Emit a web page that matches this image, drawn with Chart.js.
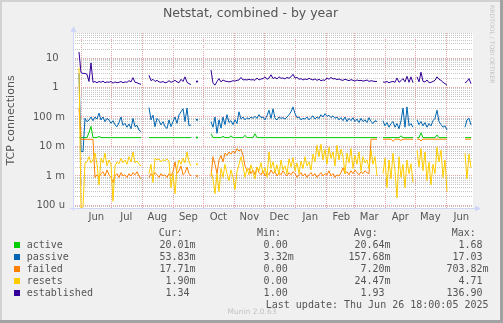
<!DOCTYPE html>
<html>
<head>
<meta charset="utf-8">
<title>Netstat, combined - by year</title>
<script src="https://cdn.jsdelivr.net/npm/chart.js@4/dist/chart.umd.min.js"></script>
<style>
  html, body { margin: 0; padding: 0; background: #f0f0f0; }
  canvas { display: block; }
</style>
</head>
<body>
<canvas id="netstat" width="503" height="323"></canvas>
<script>
// Netstat, combined - by year (munin style rrd graph)

// one sample every 2 days, day 0 is the left edge of the graph
const sampleStep = 2;
const graphDays = 400;

// month boundaries (days from the left edge) and their labels
const monthStarts = [8.3, 38.3, 69.3, 100.3, 130.3, 161.3, 191.3, 222.3, 253.3, 281.3, 312.3, 342.3, 373.3];
const monthLabels = ['Jun', 'Jul', 'Aug', 'Sep', 'Oct', 'Nov', 'Dec', 'Jan', 'Feb', 'Mar', 'Apr', 'May', 'Jun'];

// labelled decades on the log axis
const yDecades = [1e-4, 1e-3, 1e-2, 1e-1, 1, 10];
const yDecadeLabels = ['100 u', '1 m', '10 m', '100 m', '1  ', '10  '];

const active = [
  null, null, null, 0.02, 0.02, 0.02, 0.02, 0.02, 0.03, 0.048,
  0.02, 0.02, 0.02, 0.022, 0.02, 0.02, 0.02, 0.02, 0.02, 0.02,
  0.02, 0.02, 0.02, 0.02, 0.02, 0.02, 0.02, 0.02, 0.02, 0.02,
  0.02, 0.02, 0.02, 0.02, 0.02, null, null, null, 0.02, 0.02,
  0.02, 0.02, 0.02, 0.02, 0.02, 0.02, 0.02, 0.02, 0.02, 0.02,
  0.02, 0.02, 0.02, 0.02, 0.02, 0.02, 0.02, 0.02, 0.02, 0.02,
  null, null, 0.02, null, null, null, null, null, null, 0.027,
  0.02, 0.02, 0.02, 0.02, 0.02, 0.022, 0.02, 0.02, 0.02, 0.023,
  0.02, 0.02, 0.02, 0.02, 0.02, 0.02, 0.024, 0.02, 0.02, 0.02,
  0.02, 0.027, 0.02, 0.02, 0.02, 0.02, 0.02, 0.02, 0.02, 0.02,
  0.02, 0.02, 0.02, 0.02, 0.02, 0.02, 0.02, 0.02, 0.02, 0.02,
  0.02, 0.02, 0.02, 0.02, 0.02, 0.02, 0.02, 0.02, 0.02, 0.02,
  0.02, 0.02, 0.02, 0.02, 0.02, 0.02, 0.02, 0.02, 0.02, 0.02,
  0.02, 0.02, 0.02, 0.02, 0.02, 0.02, 0.02, 0.02, 0.02, 0.02,
  0.02, 0.02, 0.02, 0.02, 0.02, 0.02, 0.02, 0.02, 0.02, 0.02,
  0.02, 0.02, 0.02, null, null, 0.02, 0.02, 0.02, 0.02, 0.02,
  0.02, 0.02, 0.02, 0.02, 0.023, 0.02, 0.02, 0.02, 0.02, 0.02,
  0.02, null, 0.02, 0.02, 0.029, 0.02, 0.02, 0.02, 0.02, 0.02,
  0.02, 0.02, 0.0245, 0.02, 0.02, 0.02, 0.02, 0.02, null, null,
  null, null, null, null, null, null, 0.02, 0.02, 0.02, 0.02001,
  null
];

const passive = [
  12, null, null, 3.0, 0.0067, 0.0067, 0.09, 0.069, 0.079, 0.1,
  0.075, 0.1, 0.085, 0.135, 0.079, 0.1, 0.069, 0.09, 0.079, 0.061,
  0.075, 0.054, 0.047, 0.065, 0.1, 0.052, 0.061, 0.045, 0.058, 0.04,
  0.09, 0.047, 0.052, 0.036, 0.032, null, null, null, 0.21, 0.08,
  0.115, 0.047, 0.09, 0.075, 0.054, 0.069, 0.047, 0.041, 0.079, 0.047,
  0.069, 0.1, 0.061, 0.117, 0.15, 0.19, 0.07, 0.2, 0.05, 0.054,
  null, null, 0.08, null, null, null, null, null, null, 0.069,
  0.045, 0.1, 0.028, 0.08, 0.042, 0.1, 0.055, 0.12, 0.065, 0.075,
  0.055, 0.08, 0.06, 0.15, 0.085, 0.1, 0.08, 0.095, 0.085, 0.1,
  0.09, 0.105, 0.09, 0.12, 0.095, 0.1, 0.08, 0.11, 0.17, 0.09,
  0.19, 0.09, 0.08, 0.1, 0.09, 0.095, 0.085, 0.1, 0.12, 0.15,
  0.22, 0.13, 0.095, 0.1, 0.08, 0.09, 0.085, 0.1, 0.08, 0.095,
  0.11, 0.085, 0.1, 0.09, 0.12, 0.1, 0.13, 0.105, 0.115, 0.095,
  0.11, 0.09, 0.1, 0.08, 0.095, 0.075, 0.1, 0.07, 0.09, 0.075,
  0.095, 0.07, 0.085, 0.065, 0.09, 0.07, 0.08, 0.065, 0.095, 0.07,
  0.06, 0.075, 0.07, null, null, 0.075, 0.05, 0.065, 0.045, 0.06,
  0.07, 0.045, 0.06, 0.04, 0.075, 0.2, 0.045, 0.22, 0.05, 0.06,
  0.045, null, 0.08, 0.055, 0.07, 0.05, 0.065, 0.045, 0.06, 0.05,
  0.075, 0.09, 0.17, 0.07, 0.055, 0.045, 0.05, 0.036, null, null,
  null, null, null, null, null, null, 0.045, 0.08, 0.09, 0.05383,
  null
];

const failed = [
  0.2, null, null, 0.2, 0.0175, 0.0175, 0.0175, 0.0175, 0.0175, 0.0175,
  0.0175, 0.0009, 0.0011, 0.0009, 0.0012, 0.0014, 0.001, 0.0016, 0.0011, 0.0009,
  0.0006, 0.001, 0.0012, 0.0009, 0.0013, 0.001, 0.0011, 0.0009, 0.0012, 0.001,
  0.0013, 0.0011, 0.0014, 0.001, 0.0008, null, null, null, 0.0009, 0.0012,
  0.001, 0.0013, 0.0011, 0.0009, 0.0012, 0.001, 0.0011, 0.0009, 0.0012, 0.001,
  0.0014, 0.003, 0.0012, 0.0015, 0.0022, 0.0011, 0.0013, 0.002, 0.0012, 0.001,
  null, null, 0.001, null, null, null, null, null, null, 0.00095,
  0.0045, 0.0025, 0.0012, 0.0035, 0.005, 0.003, 0.006, 0.005, 0.0065, 0.0055,
  0.007, 0.006, 0.0085, 0.007, 0.008, 0.005, 0.0022, 0.0015, 0.0018, 0.0012,
  0.0016, 0.0011, 0.002, 0.0013, 0.0011, 0.0015, 0.001, 0.0013, 0.0011, 0.0016,
  0.0012, 0.0014, 0.001, 0.0013, 0.0011, 0.0015, 0.0012, 0.001, 0.0013, 0.0011,
  0.0014, 0.0012, 0.0009, 0.0011, 0.0013, 0.001, 0.0012, 0.0009, 0.0011, 0.0013,
  0.001, 0.0012, 0.0009, 0.0011, 0.0013, 0.001, 0.0012, 0.0011, 0.0015, 0.001,
  0.0012, 0.0009, 0.0011, 0.001, 0.0013, 0.0019, 0.0012, 0.0014, 0.0011, 0.0015,
  0.0012, 0.0016, 0.0013, 0.0011, 0.0014, 0.0012, 0.0015, 0.0013, 0.0012, 0.0177,
  0.0177, 0.0177, 0.0177, null, null, 0.0177, 0.0177, 0.0177, 0.0177, 0.0177,
  0.015, 0.0177, 0.0177, 0.0177, 0.016, 0.0177, 0.0177, 0.0177, 0.0177, 0.0177,
  0.0177, null, 0.0177, 0.0177, 0.0155, 0.0177, 0.0177, 0.0177, 0.0177, 0.0177,
  0.0177, 0.0177, 0.0177, 0.0177, 0.0177, 0.0177, 0.0177, 0.0177, null, null,
  null, null, null, null, null, null, 0.0177, 0.0177, 0.0177, 0.01771,
  null
];

const resets = [
  3.0, null, null, 4.7, 0, 0.00009, 0.0028, 0.003, 0.0045, 0.0028,
  0.0035, 0.006, 0.0025, 0.0005, 0.004, 0.0028, 0.006, 0.0022, 0.0035, 0.0025,
  0.00014, 0.0022, 0.003, 0.0026, 0.004, 0.0028, 0.0035, 0.0025, 0.0045, 0.003,
  0.0065, 0.0028, 0.0032, 0.0025, 0.0022, null, null, null, 0.0012, 0.0025,
  0.0006, 0.004, 0.0035, 0.0038, 0.003, 0.0036, 0.0033, 0.0038, 0.0032, 0.0004,
  0.0012, 0.00025, 0.0018, 0.0035, 0.0025, 0.004, 0.0028, 0.0065, 0.003, 0.0022,
  null, null, 0.0025, null, null, null, null, null, null, 0.0015,
  0.0008, 0.00025, 0.0012, 0.0003, 0.0018, 0.0009, 0.0025, 0.0012, 0.0007, 0.0016,
  0.0009, 0.00035, 0.0014, 0.0025, 0.0045, 0.0022, 0.0009, 0.0018, 0.0011, 0.0024,
  0.0013, 0.0008, 0.002, 0.0015, 0.0028, 0.0012, 0.0019, 0.0009, 0.0065, 0.0018,
  0.003, 0.0013, 0.0024, 0.0011, 0.0035, 0.0016, 0.0022, 0.0012, 0.0038, 0.002,
  0.0042, 0.0015, 0.0028, 0.0012, 0.0032, 0.0018, 0.0045, 0.0022, 0.003, 0.0016,
  0.0055, 0.003, 0.011, 0.0045, 0.012, 0.0035, 0.008, 0.0025, 0.0095, 0.004,
  0.0065, 0.0022, 0.011, 0.0035, 0.008, 0.0045, 0.0012, 0.006, 0.0028, 0.0085,
  0.0018, 0.005, 0.0025, 0.0065, 0.0015, 0.0045, 0.0028, 0.0035, 0.0018, 0.0075,
  0.0025, 0.0045, 0.001, null, null, 0.0012, 0.004, 0.0004, 0.0035, 0.0008,
  0.006, 0.0015, 0.00018, 0.0045, 0.0009, 0.0025, 0.0004, 0.0035, 0.0012, 0.0026,
  0.0006, null, 0.0075, 0.002, 0.0085, 0.0015, 0.0065, 0.0007, 0.003, 0.0005,
  0.0025, 0.0012, 0.0095, 0.003, 0.0075, 0.0009, 0.0035, 0.0003, null, null,
  null, null, null, null, null, null, 0.006, 0.0008, 0.0055, 0.0019,
  null
];

const established = [
  35, null, null, 16, 3.2, 3.0, 3.0, 2.8, 1.6, 6.8,
  1.5, 1.6, 1.45, 1.6, 1.5, 1.65, 1.45, 1.55, 1.5, 1.6,
  1.4, 1.55, 1.45, 1.5, 1.6, 1.45, 1.55, 1.5, 1.7, 1.55,
  2.15, 1.5, 1.45, 1.35, 1.28, null, null, null, 2.6, 1.7,
  1.9, 1.6, 1.75, 1.55, 1.5, 1.6, 1.45, 1.5, 1.7, 1.5,
  1.6, 1.75, 1.55, 1.45, 1.9, 1.6, 2.3, 1.5, 1.35, 1.25,
  null, null, 1.6, null, null, null, null, null, null, 3.9,
  1.4, 1.2, 1.6, 2.0, 1.55, 1.8, 1.65, 1.6, 1.55, 1.6,
  1.7, 1.65, 1.75, 1.8, 2.2, 1.8, 1.85, 1.8, 1.9, 1.8,
  1.85, 1.75, 2.1, 1.8, 1.95, 2.0, 2.3, 1.9, 2.1, 2.7,
  2.0, 2.2, 1.95, 2.3, 2.05, 2.1, 1.95, 2.2, 2.05, 2.3,
  2.8, 2.1, 2.2, 1.9, 2.0, 1.8, 1.95, 1.85, 2.05, 1.9,
  1.8, 1.95, 1.75, 1.9, 1.7, 1.8, 1.75, 2.1, 1.9, 2.2,
  1.95, 2.0, 1.85, 1.95, 1.8, 1.75, 1.9, 1.8, 1.7, 1.85,
  1.75, 1.65, 1.8, 1.7, 1.75, 1.65, 1.7, 1.8, 1.6, 1.7,
  1.65, 1.6, 1.6, null, null, 1.55, 1.5, 1.6, 1.45, 1.55,
  1.6, 1.5, 2.1, 1.5, 1.7, 2.0, 1.55, 2.4, 1.5, 2.3,
  1.45, null, 2.3, 1.55, 3.3, 1.6, 1.55, 1.8, 1.45, 1.5,
  1.6, 1.75, 2.3, 1.9, 1.75, 1.5, 1.35, 1.2, null, null,
  null, null, null, null, null, null, 1.45, 1.6, 2.0, 1.34,
  null
];

// legend table (5 minute resolution figures from munin)
const seriesNames = ['active', 'passive', 'failed', 'resets', 'established'];
const seriesColors = ['#00CC00', '#0066B3', '#FF8000', '#FFCC00', '#330099'];
const minValues = [0, 0.00332, 0, 0, 1.00];
const avgValues = [0.02064, 0.15768, 0.0072, 0.02447, 1.93];
const maxValues = [1.68, 17.03, 0.70382, 4.71, 136.90];
const seriesData = [active, passive, failed, resets, established];

const textColor = '#555555';
const axisColor = '#CFD6F8';
const majorGrid = '#EAA6A6';
const minorGrid = '#C6C6C6';

const yMin = Math.pow(10, -4.085);
const yMax = Math.pow(10, 1.8475);

// gridline values: 1..9 x 10^n inside the axis range
const yGrid = [];
for (let e = -5; e <= 1; e++) {
  for (let k = 1; k <= 9; k++) {
    const v = k * Math.pow(10, e);
    if (v >= yMin && v <= yMax) yGrid.push(v);
  }
}
const isDecade = v => Math.abs(Math.log10(v) - Math.round(Math.log10(v))) < 1e-9;

function lastValue(arr) {
  for (let i = arr.length - 1; i >= 0; i--) if (arr[i] != null) return arr[i];
  return null;
}
const curValues = seriesData.map(lastValue);

// rrdtool style "%6.2lf%s"
function siParts(v) {
  if (v === 0) return ['0.00', ' '];
  if (v < 1) return [(v * 1000).toFixed(2), 'm'];
  return [v.toFixed(2), ' '];
}

function toPoints(arr) {
  // zero sits on the bottom of the log axis, like rrdtool draws it
  return arr.map((v, i) => ({ x: i * sampleStep, y: v === 0 ? yMin : v }));
}

function isolated(c) {
  const d = c.dataset.data;
  const i = c.dataIndex;
  const empty = j => !d[j] || d[j].y == null;
  return !empty(i) && empty(i - 1) && empty(i + 1) ? 1.1 : 0;
}

const datasets = seriesNames.map((name, i) => ({
  label: name,
  data: toPoints(seriesData[i]),
  borderColor: seriesColors[i],
  backgroundColor: seriesColors[i],
  borderWidth: 1,
  pointRadius: isolated,
  pointBorderWidth: 0,
  tension: 0,
  spanGaps: false,
  order: seriesNames.length - 1 - i
}));

const rrdFrame = {
  id: 'rrdFrame',
  beforeDraw(chart) {
    const { ctx, chartArea: a, width, height } = chart;
    ctx.save();
    ctx.fillStyle = '#F0F0F0';
    ctx.fillRect(0, 0, width, height);
    ctx.fillStyle = '#D2D2D2';
    ctx.fillRect(0, 0, width, 2);
    ctx.fillRect(0, 0, 2, height);
    ctx.fillStyle = '#A2A2A2';
    ctx.fillRect(0, height - 3, width, 3);
    ctx.fillRect(width - 3, 0, 3, height);
    ctx.fillStyle = '#FFFFFF';
    ctx.fillRect(a.left, a.top, a.right - a.left, a.bottom - a.top);
    ctx.restore();
  },
  afterDraw(chart) {
    const { ctx, chartArea: a } = chart;
    ctx.save();

    // axes with arrow heads
    ctx.strokeStyle = axisColor;
    ctx.fillStyle = axisColor;
    ctx.lineWidth = 1;
    ctx.beginPath();
    ctx.moveTo(a.left - 3, a.bottom + 0.5);
    ctx.lineTo(a.right + 4, a.bottom + 0.5);
    ctx.moveTo(a.left + 0.5, a.bottom + 3);
    ctx.lineTo(a.left + 0.5, a.top - 4);
    ctx.stroke();
    ctx.beginPath();
    ctx.moveTo(a.right + 2, a.bottom - 2.5);
    ctx.lineTo(a.right + 8, a.bottom + 0.5);
    ctx.lineTo(a.right + 2, a.bottom + 3.5);
    ctx.closePath();
    ctx.fill();
    ctx.beginPath();
    ctx.moveTo(a.left - 2.5, a.top - 1);
    ctx.lineTo(a.left + 0.5, a.top - 7);
    ctx.lineTo(a.left + 3.5, a.top - 1);
    ctx.closePath();
    ctx.fill();

    // title
    ctx.fillStyle = textColor;
    ctx.font = '12.5px "DejaVu Sans"';
    ctx.textAlign = 'center';
    ctx.textBaseline = 'alphabetic';
    ctx.fillText('Netstat, combined - by year', 250.5, 17);

    // vertical axis title
    ctx.save();
    ctx.translate(11.2, (a.top + a.bottom) / 2);
    ctx.rotate(-Math.PI / 2);
    ctx.font = '11px "DejaVu Sans"';
    ctx.textBaseline = 'middle';
    ctx.fillText('TCP connections', 0, 0);
    ctx.restore();

    // rrdtool credit on the right edge
    ctx.save();
    ctx.translate(492, 5);
    ctx.rotate(Math.PI / 2);
    ctx.font = '6.1px "DejaVu Sans"';
    ctx.fillStyle = '#C6C6C6';
    ctx.textAlign = 'left';
    ctx.textBaseline = 'middle';
    ctx.fillText('RRDTOOL / TOBI OETIKER', 0, 0);
    ctx.restore();

    // legend table
    const mono = '10px "DejaVu Sans Mono"';
    const colRight = [189.5, 287.7, 384.5, 482.5];
    const heads = ['Cur:', 'Min:', 'Avg:', 'Max:'];
    const cols = [curValues, minValues, avgValues, maxValues];
    ctx.font = mono;
    ctx.textBaseline = 'middle';
    ctx.fillStyle = textColor;
    ctx.textAlign = 'right';
    heads.forEach((h, c) => ctx.fillText(h, colRight[c] - 6.7, 233.3));

    seriesNames.forEach((name, r) => {
      const y = 245 + r * 12;
      ctx.fillStyle = seriesColors[r];
      ctx.fillRect(14, y - 3, 6, 6);
      ctx.fillStyle = textColor;
      ctx.textAlign = 'left';
      ctx.fillText(name, 26.7, y);
      cols.forEach((vals, c) => {
        const [num, suffix] = siParts(vals[r]);
        ctx.textAlign = 'right';
        ctx.fillText(num, colRight[c], y);
        ctx.textAlign = 'left';
        ctx.fillText(suffix, colRight[c], y);
      });
    });

    ctx.textAlign = 'right';
    ctx.fillText('Last update: Thu Jun 26 18:00:05 2025', 488.5, 305);

    ctx.font = '7.5px "DejaVu Sans"';
    ctx.fillStyle = '#C2C2C2';
    ctx.textAlign = 'center';
    ctx.fillText('Munin 2.0.63', 252, 312.3);

    ctx.restore();
  }
};

new Chart(document.getElementById('netstat'), {
  type: 'line',
  data: { datasets },
  plugins: [rrdFrame],
  options: {
    responsive: false,
    devicePixelRatio: 1,
    animation: false,
    events: [],
    layout: { padding: { left: 0, top: 33, right: 30, bottom: 0 } },
    plugins: { legend: { display: false }, tooltip: { enabled: false } },
    scales: {
      x: {
        type: 'linear',
        min: 0,
        max: graphDays,
        afterBuildTicks: s => { s.ticks = monthStarts.map(v => ({ value: v })); },
        afterFit: s => { s.height = 115; },
        grid: { color: majorGrid, lineWidth: 1, drawTicks: false },
        border: { display: false, dash: [1, 1] },
        ticks: {
          autoSkip: false,
          maxRotation: 0,
          labelOffset: 15,
          padding: 3,
          color: textColor,
          font: { family: 'DejaVu Sans', size: 10 },
          callback: (v, i) => monthLabels[i]
        }
      },
      y: {
        type: 'logarithmic',
        min: yMin,
        max: yMax,
        afterBuildTicks: s => { s.ticks = yGrid.map(v => ({ value: v })); },
        afterFit: s => { s.width = 73; },
        grid: {
          color: c => (isDecade(c.tick.value) ? majorGrid : minorGrid),
          lineWidth: 1,
          drawTicks: false
        },
        border: { display: false, dash: [1, 1] },
        ticks: {
          autoSkip: false,
          padding: 8,
          color: textColor,
          font: { family: 'DejaVu Sans', size: 10 },
          callback: v => {
            const i = yDecades.findIndex(d => Math.abs(d - v) / d < 1e-6);
            return i < 0 ? '' : yDecadeLabels[i];
          }
        }
      }
    }
  }
});
</script>
</body>
</html>
